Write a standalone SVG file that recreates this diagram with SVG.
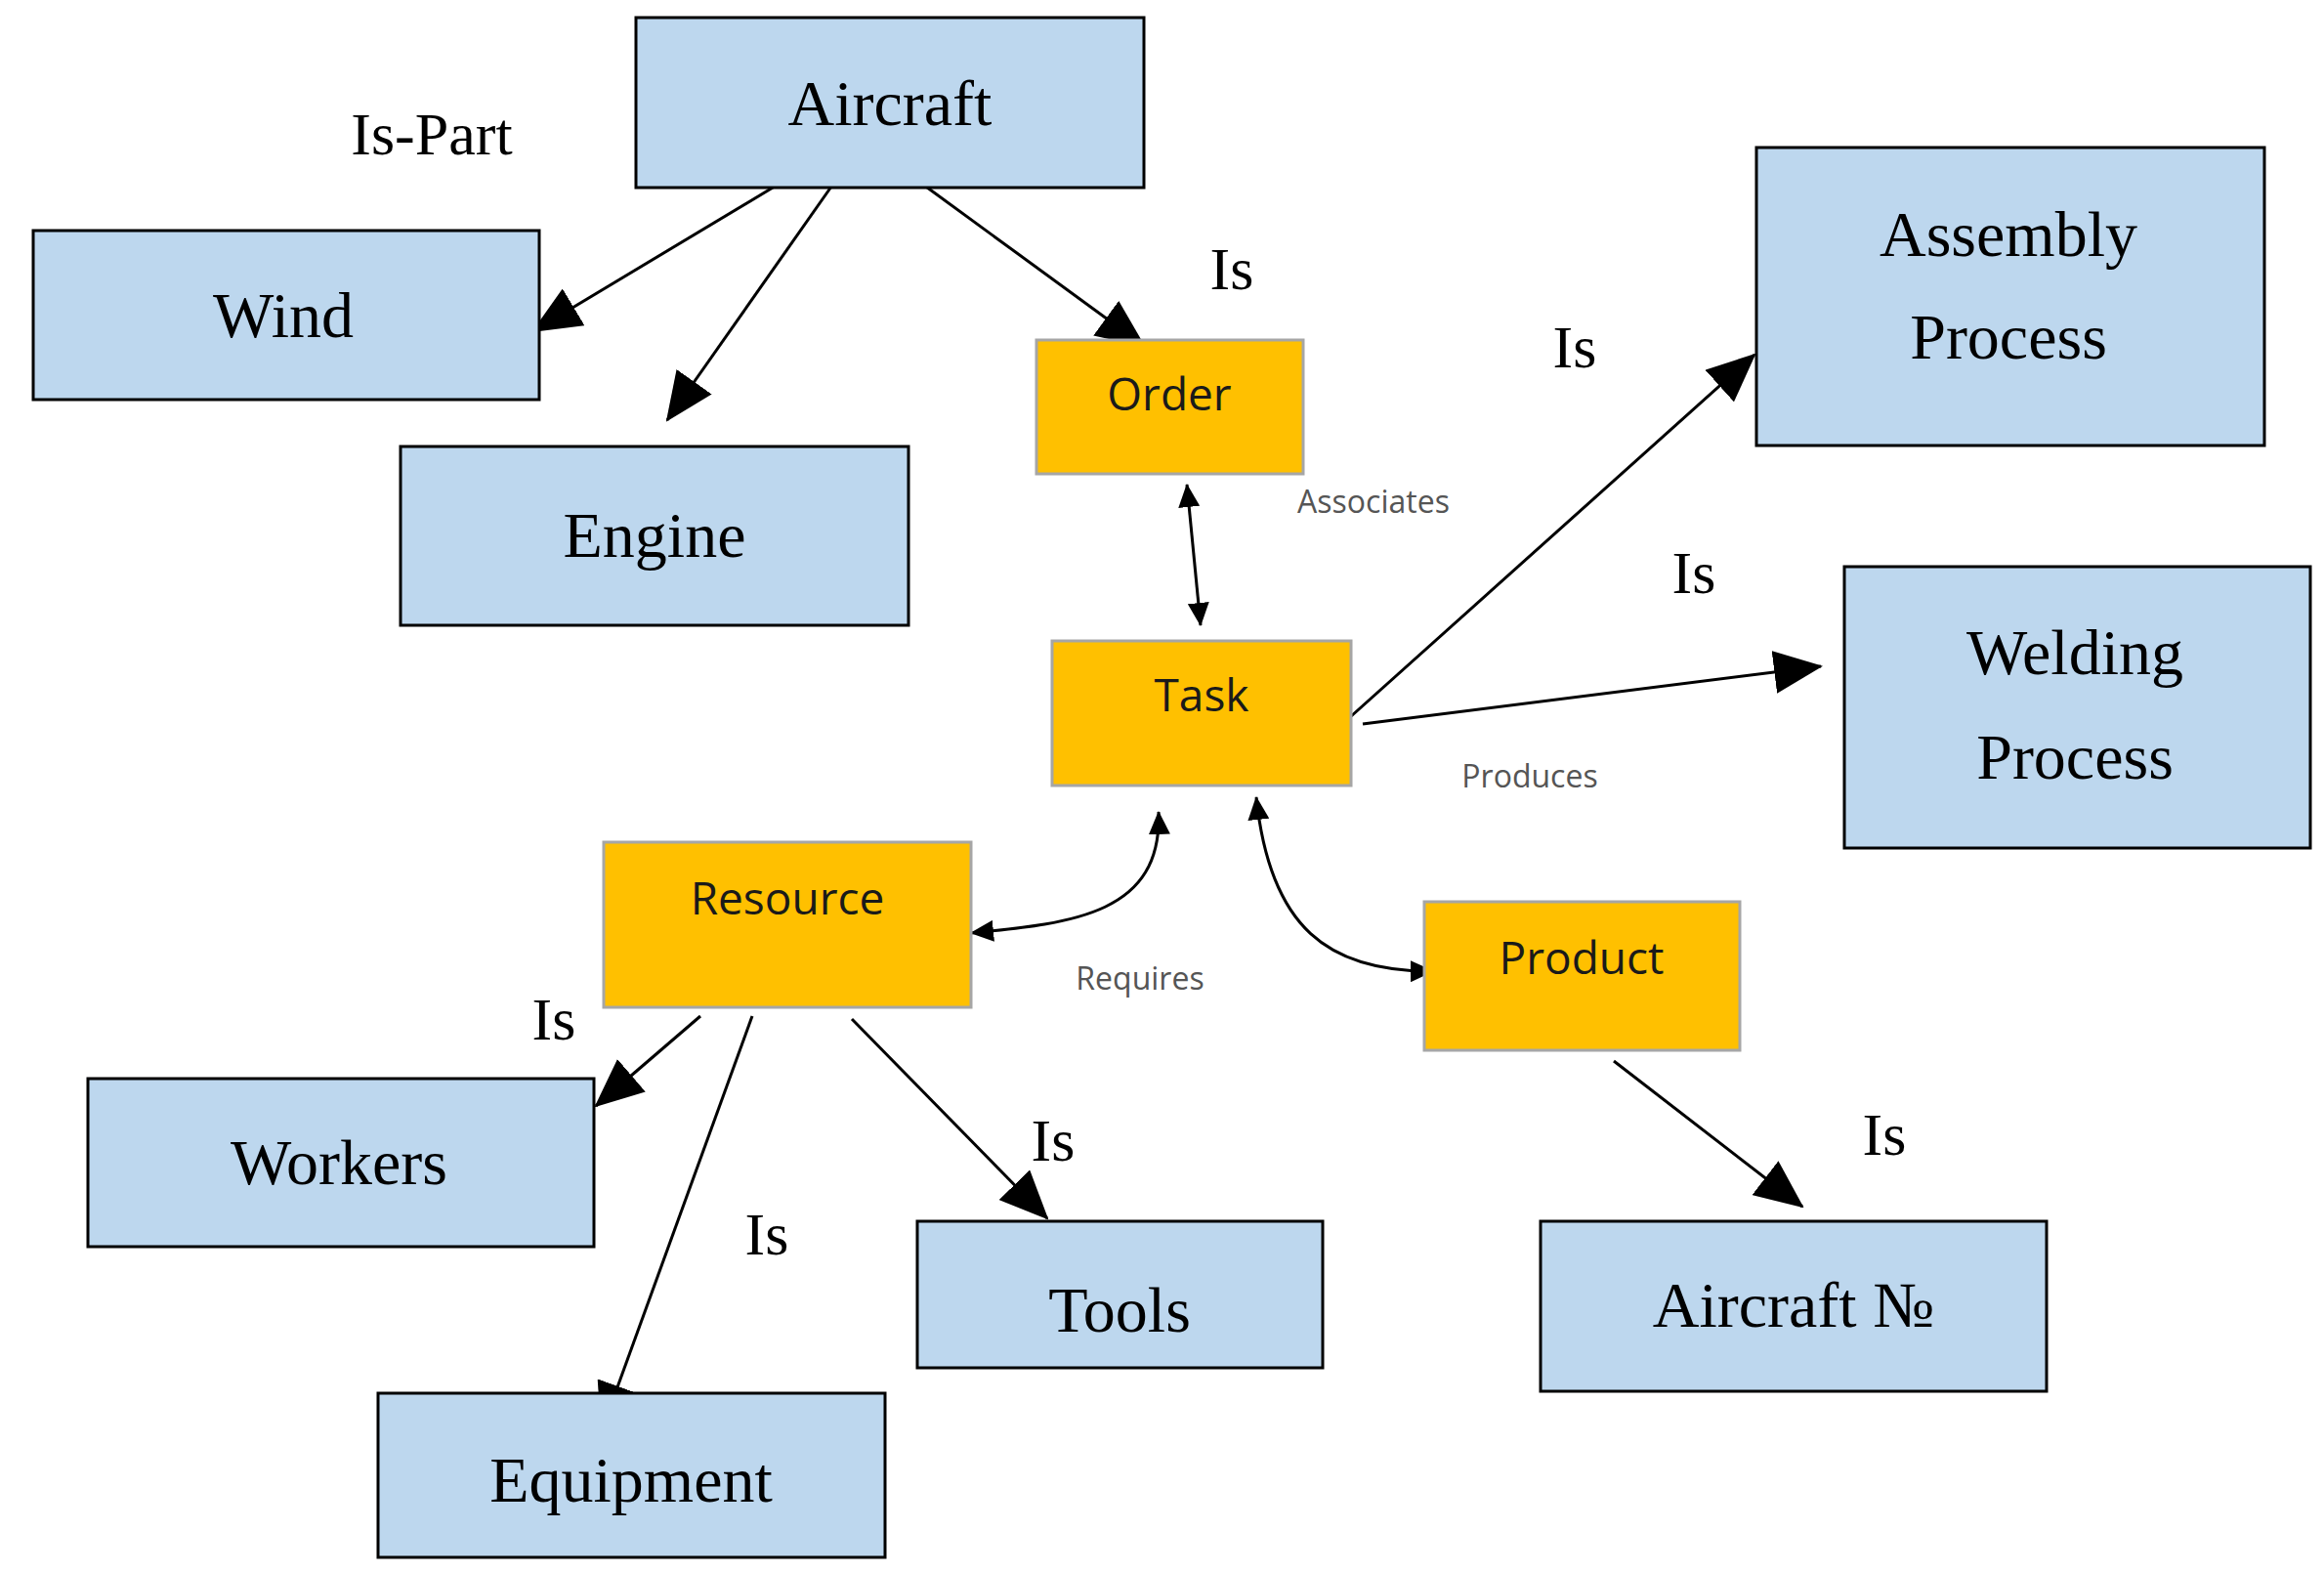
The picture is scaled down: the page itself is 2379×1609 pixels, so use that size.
<svg xmlns="http://www.w3.org/2000/svg" width="2379" height="1609" viewBox="0 0 2379 1609">
<style>
.b rect{fill:#bdd7ee;stroke:#000;stroke-width:3}
.y rect{fill:#ffc000;stroke:#a6a6a6;stroke-width:3}
.b text{font-family:"Liberation Serif",serif;font-size:66px;text-anchor:middle;fill:#000}
.y text{font-family:"Open Sans",sans-serif;font-size:46px;text-anchor:middle;fill:#1a1a1a}
.l{font-family:"Liberation Serif",serif;font-size:62px;text-anchor:middle}
.s{font-family:"Open Sans",sans-serif;font-size:32px;text-anchor:middle;fill:#555}
#c path{fill:none;stroke:#000;stroke-width:3}
</style>
<defs>
<marker id="a" markerUnits="userSpaceOnUse" markerWidth="50" markerHeight="44" refX="48" refY="22" orient="auto"><path d="M0,0L50,22L0,44z"/></marker>
<marker id="s" markerUnits="userSpaceOnUse" markerWidth="24" markerHeight="22" refX="23" refY="11" orient="auto-start-reverse"><path d="M0,0L24,11L0,22z"/></marker>
</defs>
<rect width="2379" height="1609" fill="#fff"/>
<g id="c">
<path d="M801,186L546,339" marker-end="url(#a)"/>
<path d="M851,191L683,430" marker-end="url(#a)"/>
<path d="M941,186L1171,354" marker-end="url(#a)"/>
<path d="M1215,496L1229,640" marker-start="url(#s)" marker-end="url(#s)"/>
<path d="M1372,743L1796,363" marker-end="url(#a)"/>
<path d="M1395,741L1864,682" marker-end="url(#a)"/>
<path d="M994,955C1100,945 1190,935 1186,831" marker-start="url(#s)" marker-end="url(#s)"/>
<path d="M1286,816C1300,950 1360,995 1467,994" marker-start="url(#s)" marker-end="url(#s)"/>
<path d="M717,1040L610,1132" marker-end="url(#a)"/>
<path d="M770,1040L616,1464" marker-end="url(#a)"/>
<path d="M872,1043L1072,1247" marker-end="url(#a)"/>
<path d="M1652,1086L1845,1235" marker-end="url(#a)"/>
</g>
<g id="aircraft" class="b"><rect x="651" y="18" width="520" height="174"/><text x="911" y="128">Aircraft</text></g>
<g id="wind" class="b"><rect x="34" y="236" width="518" height="173"/><text x="290" y="345">Wind</text></g>
<g id="engine" class="b"><rect x="410" y="457" width="520" height="183"/><text x="670" y="570">Engine</text></g>
<g id="order" class="y"><rect x="1061" y="348" width="273" height="137"/><text x="1197" y="420">Order</text></g>
<g id="task" class="y"><rect x="1077" y="656" width="306" height="148"/><text x="1230" y="728">Task</text></g>
<g id="resource" class="y"><rect x="618" y="862" width="376" height="169"/><text x="806" y="936">Resource</text></g>
<g id="product" class="y"><rect x="1458" y="923" width="323" height="152"/><text x="1619" y="997">Product</text></g>
<g id="assembly" class="b"><rect x="1798" y="151" width="520" height="305"/><text x="2056" y="262">Assembly</text><text x="2056" y="367">Process</text></g>
<g id="welding" class="b"><rect x="1888" y="580" width="477" height="288"/><text x="2124" y="690">Welding</text><text x="2124" y="797">Process</text></g>
<g id="workers" class="b"><rect x="90" y="1104" width="518" height="172"/><text x="347" y="1212">Workers</text></g>
<g id="tools" class="b"><rect x="939" y="1250" width="415" height="150"/><text x="1146" y="1363">Tools</text></g>
<g id="equipment" class="b"><rect x="387" y="1426" width="519" height="168"/><text x="646" y="1537">Equipment</text></g>
<g id="aircraftno" class="b"><rect x="1577" y="1250" width="518" height="174"/><text x="1836" y="1358">Aircraft №</text></g>
<g id="labels">
<text class="l" x="442" y="158">Is-Part</text>
<text class="l" x="1261" y="296">Is</text>
<text class="l" x="1612" y="376">Is</text>
<text class="l" x="1734" y="607">Is</text>
<text class="l" x="567" y="1064">Is</text>
<text class="l" x="1078" y="1188">Is</text>
<text class="l" x="785" y="1284">Is</text>
<text class="l" x="1929" y="1182">Is</text>
<text class="s" x="1406" y="525">Associates</text>
<text class="s" x="1566" y="806">Produces</text>
<text class="s" x="1167" y="1013">Requires</text>
</g>
</svg>
